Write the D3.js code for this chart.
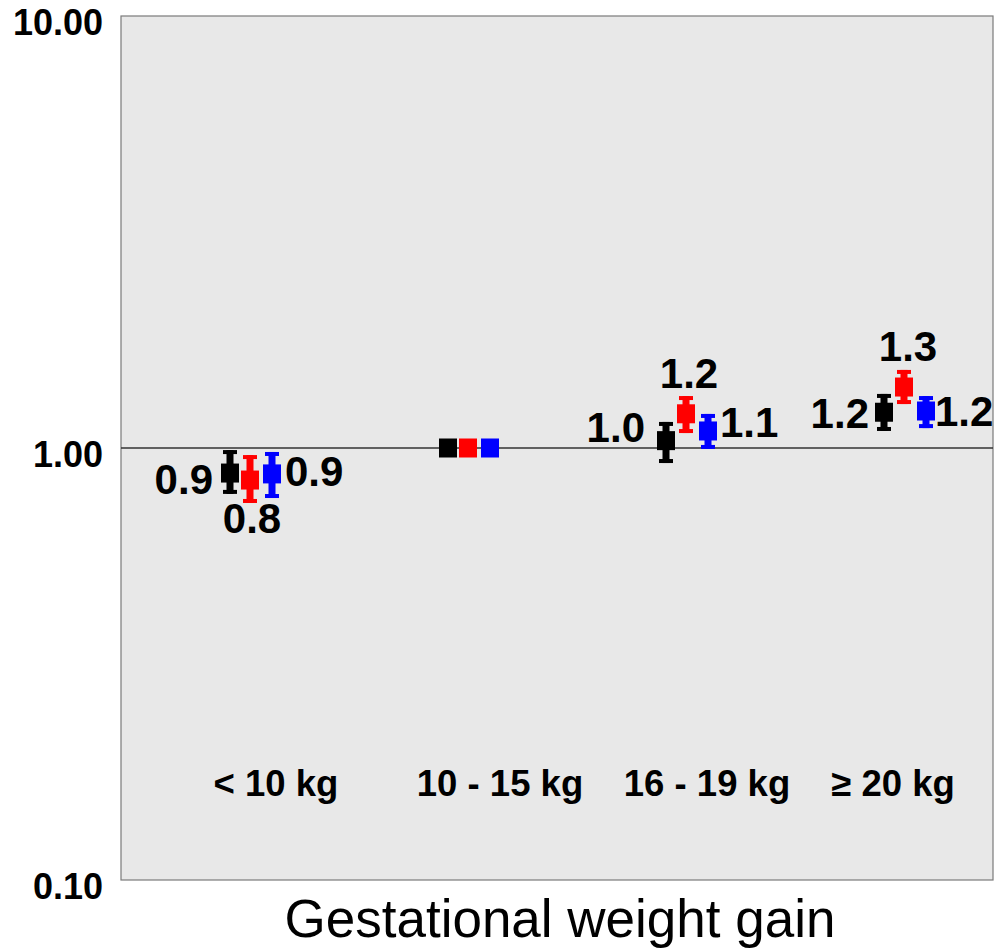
<!DOCTYPE html>
<html>
<head>
<meta charset="utf-8">
<script src="https://cdn.jsdelivr.net/npm/d3@7"></script>
<style>
  html, body { margin: 0; padding: 0; background: #ffffff; }
  svg text { font-family: "Liberation Sans", Arial, Helvetica, sans-serif; }
</style>
</head>
<body>
<svg id="chart" width="1002" height="948"></svg>
<script>
// ---- Data ----
const categories = ["< 10 kg", "10 - 15 kg", "16 - 19 kg", "\u2265 20 kg"];
const seriesNames = ["Model 1", "Model 2", "Model 3"];
const seriesColors = ["#000000", "#ff0000", "#0000ff"];

// point estimates (odds ratios) per category
const est1 = [0.875, 1.0, 1.04, 1.21];
const est2 = [0.843, 1.0, 1.20, 1.384];
const est3 = [0.871, 1.0, 1.095, 1.218];
// lower / upper confidence limits (reference category has none)
const lo1 = [0.783, null, 0.923, 1.095];
const hi1 = [0.989, null, 1.149, 1.334];
const lo2 = [0.746, null, 1.083, 1.264];
const hi2 = [0.963, null, 1.319, 1.516];
const lo3 = [0.766, null, 0.995, 1.112];
const hi3 = [0.979, null, 1.199, 1.319];

// printed value labels
const lab1 = ["0.9", "", "1.0", "1.2"];
const lab2 = ["0.8", "", "1.2", "1.3"];
const lab3 = ["0.9", "", "1.1", "1.2"];

const yTicks = [0.1, 1, 10];
const yTickLabels = ["0.10", "1.00", "10.00"];
const xTitle = "Gestational weight gain";

// ---- Layout ----
const W = 1002, H = 948;
const plot = { left: 121, top: 16, right: 993, bottom: 880 };
const seriesOffset = [0, 20, 42];
// label placement relative to its marker [dx, dy, anchor]
const labelLayout = [
  [[-17, 21, "end"], null, [-21, 1, "end"], [-15, 16, "end"]],
  [[2, 53, "middle"], null, [3, -26, "middle"], [4, -26, "middle"]],
  [[13, 12, "start"], null, [12, 6, "start"], [9, 15, "start"]]
];
const catLabelShift = [46, 52, 41, 9];

const svg = d3.select("#chart");

const x = d3.scaleBand().domain(categories).range([plot.left, plot.right]);
const y = d3.scaleLog().domain([0.1, 10]).range([plot.bottom, plot.top]);

// plot background
svg.append("rect")
  .attr("x", plot.left).attr("y", plot.top)
  .attr("width", plot.right - plot.left).attr("height", plot.bottom - plot.top)
  .attr("fill", "#e8e8e8").attr("stroke", "#7a7a7a").attr("stroke-width", 1.2);

// reference line at 1
svg.append("line")
  .attr("x1", plot.left).attr("x2", plot.right)
  .attr("y1", y(1)).attr("y2", y(1))
  .attr("stroke", "#333").attr("stroke-width", 1.3);

// y tick labels (no tick marks)
svg.append("g").selectAll("text").data(yTicks).join("text")
  .attr("x", 103).attr("y", d => y(d) + 19)
  .attr("text-anchor", "end")
  .attr("font-size", 36).attr("font-weight", "bold")
  .attr("fill", "#000")
  .text((d, i) => yTickLabels[i]);

// category labels
svg.append("g").selectAll("text").data(categories).join("text")
  .attr("x", (d, i) => x(d) + x.bandwidth() / 2 + catLabelShift[i])
  .attr("y", 796)
  .attr("text-anchor", "middle")
  .attr("font-size", 36.5).attr("font-weight", "bold")
  .attr("fill", "#000")
  .text(d => d);

// x-axis title
svg.append("text")
  .attr("x", (plot.left + plot.right) / 2 + 3)
  .attr("y", 937)
  .attr("text-anchor", "middle")
  .attr("font-size", 53)
  .attr("fill", "#000")
  .text(xTitle);

// ---- Marks ----
const ests = [est1, est2, est3];
const los = [lo1, lo2, lo3];
const his = [hi1, hi2, hi3];
const labs = [lab1, lab2, lab3];

const points = [];
seriesNames.forEach((s, si) => {
  categories.forEach((c, ci) => {
    points.push({
      si, ci, cat: c,
      est: ests[si][ci], lo: los[si][ci], hi: his[si][ci],
      label: labs[si][ci], color: seriesColors[si]
    });
  });
});

const cx = d => x(d.cat) + x.bandwidth() / 2 + seriesOffset[d.si];

const g = svg.append("g");
const capW = 14, stemW = 7, capT = 4, sqW = 18, sqH = 19;

const withCI = points.filter(d => d.lo != null);
// stems
g.selectAll("rect.stem").data(withCI).join("rect")
  .attr("class", "stem")
  .attr("x", d => cx(d) - stemW / 2)
  .attr("y", d => y(d.hi))
  .attr("width", stemW)
  .attr("height", d => y(d.lo) - y(d.hi))
  .attr("fill", d => d.color);
// caps
g.selectAll("rect.capHi").data(withCI).join("rect")
  .attr("x", d => cx(d) - capW / 2)
  .attr("y", d => y(d.hi))
  .attr("width", capW).attr("height", capT)
  .attr("fill", d => d.color);
g.selectAll("rect.capLo").data(withCI).join("rect")
  .attr("x", d => cx(d) - capW / 2)
  .attr("y", d => y(d.lo) - capT)
  .attr("width", capW).attr("height", capT)
  .attr("fill", d => d.color);
// squares
g.selectAll("rect.sq").data(points).join("rect")
  .attr("class", "sq")
  .attr("x", d => cx(d) - sqW / 2)
  .attr("y", d => y(d.est) - sqH / 2)
  .attr("width", sqW).attr("height", sqH)
  .attr("fill", d => d.color);

// value labels
g.selectAll("text.val").data(points.filter(d => d.label)).join("text")
  .attr("class", "val")
  .attr("x", d => cx(d) + labelLayout[d.si][d.ci][0])
  .attr("y", d => y(d.est) + labelLayout[d.si][d.ci][1])
  .attr("text-anchor", d => labelLayout[d.si][d.ci][2])
  .attr("font-size", 42).attr("font-weight", "bold")
  .attr("fill", "#000")
  .text(d => d.label);
</script>
</body>
</html>
